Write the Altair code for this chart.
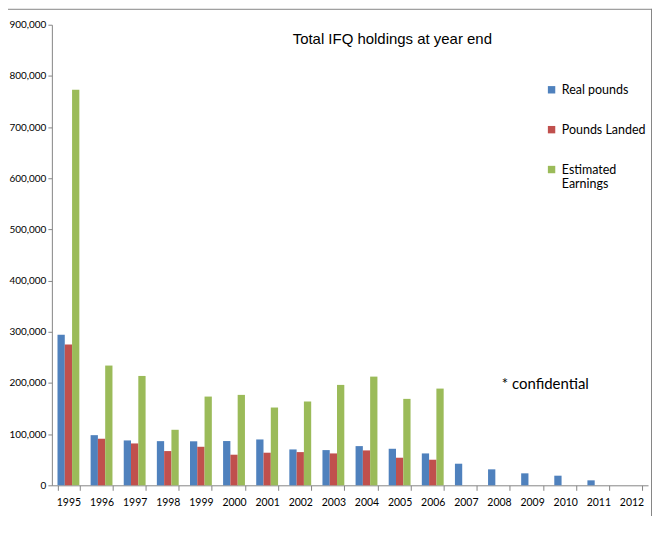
import altair as alt
import pandas as pd

years = [str(y) for y in range(1995, 2013)]
series_names = ["Real  pounds", "Pounds Landed", "Estimated Earnings"]
colors = ["#4F81BD", "#C0504D", "#9BBB59"]

real_pounds = [294000, 98000, 87700, 86300, 86000, 86500, 89600, 70100, 68800,
               76600, 71400, 62300, 42200, 31200, 23400, 18800, 9700, None]
pounds_landed = [275000, 91000, 81800, 66900, 75300, 59800, 63700, 64900, 62300,
                 68200, 53900, 50000, None, None, None, None, None, None]
est_earnings = [773000, 234000, 213700, 108500, 173400, 176700, 152000, 163600, 196200,
                212400, 168900, 189000, None, None, None, None, None, None]

title_text = "Total IFQ holdings at year end"
note_text = "* confidential"
y_ticks = [0, 100000, 200000, 300000, 400000, 500000, 600000, 700000, 800000, 900000]

rows = []
for name, vals in zip(series_names, [real_pounds, pounds_landed, est_earnings]):
    for yr, v in zip(years, vals):
        if v is not None:
            rows.append({"year": yr, "series": name, "value": v})
df = pd.DataFrame(rows)

bars = alt.Chart(df).mark_bar().encode(
    x=alt.X("year:N",
            scale=alt.Scale(domain=years, paddingInner=0.34, paddingOuter=0.17),
            axis=alt.Axis(title=None, labelAngle=0, tickBand="extent", tickSize=5,
                          labelPadding=7, labelFont="Lato", labelFontSize=10.5,
                          labelColor="#000000", domainColor="#868686", tickColor="#868686")),
    xOffset=alt.XOffset("series:N", scale=alt.Scale(domain=series_names)),
    y=alt.Y("value:Q",
            scale=alt.Scale(domain=[0, 900000], nice=False),
            axis=alt.Axis(title=None, values=y_ticks, format=",.0f", grid=False, tickSize=4,
                          labelPadding=2, labelFont="Lato", labelFontSize=10,
                          labelColor="#000000", domainColor="#868686", tickColor="#868686")),
    color=alt.Color("series:N",
                    scale=alt.Scale(domain=series_names, range=colors),
                    legend=alt.Legend(title=None, orient="none", legendX=495, legendY=59,
                                      symbolType="square", symbolSize=55, symbolStrokeWidth=0,
                                      labelFont="Lato", labelFontSize=12.5, labelColor="#000000",
                                      rowPadding=27, padding=0, labelOffset=4,
                                      labelExpr="datum.label == 'Estimated Earnings' ? ['Estimated', 'Earnings'] : datum.label")),
)

title = alt.Chart(pd.DataFrame({"t": [title_text]})).mark_text(
    font="Liberation Sans", fontSize=15, color="#000000", align="center", baseline="middle"
).encode(text="t:N", x=alt.value(341.5), y=alt.value(14))

note = alt.Chart(pd.DataFrame({"t": [note_text]})).mark_text(
    font="Lato", fontSize=15, color="#000000", align="center", baseline="middle"
).encode(text="t:N", x=alt.value(495), y=alt.value(360))

right_border = alt.Chart(pd.DataFrame({"a": [0]})).mark_rule(
    color="#868686", strokeWidth=1, clip=False
).encode(x=alt.value(601.5), y=alt.value(-16), y2=alt.value(510))

top_border = alt.Chart(pd.DataFrame({"a": [0]})).mark_rule(
    color="#868686", strokeWidth=1, clip=False
).encode(x=alt.value(-50), x2=alt.value(601.5), y=alt.value(-15.5))

chart = alt.layer(bars, title, note, right_border, top_border).properties(
    width=598, height=462,
    autosize=alt.AutoSizeParams(type="none"),
    padding={"left": 44, "top": 16, "right": 6, "bottom": 30},
).configure_view(stroke=None)

chart.save("out.html", embed_options={"renderer": "svg", "actions": False})
